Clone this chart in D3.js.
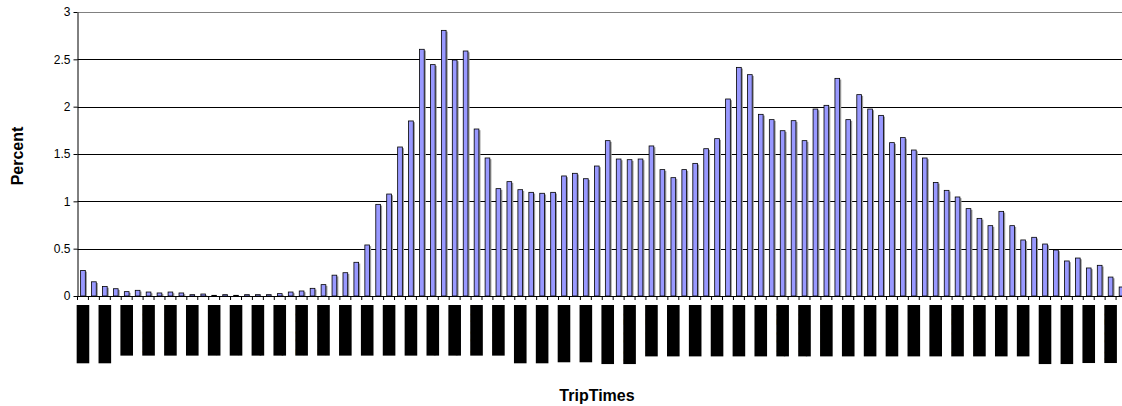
<!DOCTYPE html>
<head>
    <title>TripTimes percent chart</title>
</head>
<meta charset="utf-8">
<script src="https://d3js.org/d3.v7.min.js"></script>
<style>
  body { margin: 0; background: #fff; }
  text { font-family: "Liberation Sans", Arial, sans-serif; }
</style>
<body>
<div id="my_dataviz"></div>
<script>

// 15 minute trip time slots, one value each (percent of trips)
var percents = [
  0.27, 0.15, 0.10, 0.077, 0.046, 0.06, 0.042, 0.032, 0.042, 0.032,
  0.014, 0.021, 0.007, 0.014, 0.007, 0.014, 0.014, 0.014, 0.025, 0.042,
  0.053, 0.081, 0.12, 0.22, 0.246, 0.356, 0.539, 0.968, 1.077, 1.574,
  1.849, 2.606, 2.444, 2.806, 2.493, 2.588, 1.764, 1.458, 1.134, 1.208,
  1.123, 1.095, 1.085, 1.095, 1.268, 1.296, 1.239, 1.373, 1.641, 1.447,
  1.44, 1.447, 1.585, 1.335, 1.25, 1.335, 1.401, 1.556, 1.662, 2.081,
  2.415, 2.338, 1.919, 1.863, 1.746, 1.852, 1.641, 1.975, 2.014, 2.299,
  1.863, 2.127, 1.975, 1.908, 1.62, 1.673, 1.542, 1.458, 1.2, 1.116,
  1.046, 0.923, 0.82, 0.743, 0.894, 0.743, 0.592, 0.62, 0.549, 0.486,
  0.37, 0.401, 0.296, 0.324, 0.2, 0.095
];

var yTicks = [0, 0.5, 1, 1.5, 2, 2.5, 3];

// category names: 12:00 AM, 12:15 AM, ... 11:45 PM
var slots = [];
for (var i = 0; i < percents.length; i++) {
  var h = Math.floor(i / 4), m = (i % 4) * 15;
  var h12 = h % 12 === 0 ? 12 : h % 12;
  slots.push(h12 + ":" + (m < 10 ? "0" + m : m) + (h < 12 ? " AM" : " PM"));
}
// only every other category gets a label
var shownLabels = slots.filter(function(d, i) { return i % 2 === 0; });

var width = 1122, height = 406;
var plot = {left: 77.5, right: 1127, top: 12, bottom: 296};

var svg = d3.select("#my_dataviz")
  .append("svg")
    .attr("width", width)
    .attr("height", height);

var x = d3.scaleBand()
  .domain(slots)
  .range([plot.left, plot.right])
  .paddingInner(0.57)
  .paddingOuter(0.285);

var y = d3.scaleLinear()
  .domain([0, 3])
  .range([plot.bottom, plot.top]);

// gridlines
svg.selectAll("grid")
  .data(yTicks.slice(1))
  .enter()
  .append("line")
    .attr("x1", plot.left)
    .attr("x2", width)
    .attr("y1", function(d) { return Math.round(y(d)) + 0.5; })
    .attr("y2", function(d) { return Math.round(y(d)) + 0.5; })
    .style("stroke", function(d) { return d === 3 ? "#808080" : "#000"; })
    .style("stroke-width", 1);

// bar shadows then bars
svg.selectAll("shadow")
  .data(percents)
  .enter()
  .append("rect")
    .attr("x", function(d, i) { return x(slots[i]) + 1.6; })
    .attr("y", function(d) { return y(d) + 1.2; })
    .attr("width", x.bandwidth())
    .attr("height", function(d) { return plot.bottom - y(d) - 1.2; })
    .style("fill", "#9a9a9a");

svg.selectAll("bar")
  .data(percents)
  .enter()
  .append("rect")
    .attr("x", function(d, i) { return x(slots[i]); })
    .attr("y", function(d) { return y(d); })
    .attr("width", x.bandwidth())
    .attr("height", function(d) { return plot.bottom - y(d); })
    .style("fill", "#9999ff")
    .style("stroke", "#000")
    .style("stroke-width", 0.8);

// y axis
var yAxis = svg.append("g")
  .attr("transform", "translate(" + plot.left + ",0)")
  .call(d3.axisLeft(y).tickValues(yTicks).tickSize(4).tickSizeOuter(0).tickFormat(d3.format("")));
yAxis.select(".domain").style("stroke", "#000");
yAxis.selectAll("text")
  .attr("x", -7)
  .style("font-size", "12px")
  .style("font-family", "'Liberation Sans', Arial, sans-serif")
  .style("fill", "#000");

// x axis line and tick marks between categories
svg.append("line")
  .attr("x1", plot.left).attr("x2", width)
  .attr("y1", plot.bottom + 0.5).attr("y2", plot.bottom + 0.5)
  .style("stroke", "#000");

svg.selectAll("xtick")
  .data(slots)
  .enter()
  .append("line")
    .attr("x1", function(d) { return x(d) - x.step() * x.paddingInner() / 2; })
    .attr("x2", function(d) { return x(d) - x.step() * x.paddingInner() / 2; })
    .attr("y1", plot.bottom)
    .attr("y2", plot.bottom + 4)
    .style("stroke", "#000");

// category labels, printed as solid dark blocks of rotated text
var labelTop = 305;
var labels = svg.selectAll("xlabel")
  .data(shownLabels)
  .enter()
  .append("g")
    .attr("transform", function(d) {
      return "translate(" + (x(d) + x.bandwidth() / 2) + "," + labelTop + ")";
    });

labels.append("text")
    .attr("transform", "rotate(-90)")
    .attr("dy", "0.35em")
    .style("text-anchor", "end")
    .style("font-size", "13.8px")
    .style("fill", "#000")
    .text(function(d) { return d; });

labels.insert("rect", "text")
    .attr("x", -6.3)
    .attr("y", 0)
    .attr("width", 12.6)
    .attr("height", function() {
      return this.parentNode.querySelector("text").getComputedTextLength();
    })
    .style("fill", "#000");

// axis titles
svg.append("text")
  .attr("x", 597)
  .attr("y", 401)
  .style("text-anchor", "middle")
  .style("font-size", "16px")
  .style("font-weight", "bold")
  .text("TripTimes");

svg.append("text")
  .attr("transform", "translate(23,156) rotate(-90)")
  .style("text-anchor", "middle")
  .style("font-size", "16px")
  .style("font-weight", "bold")
  .text("Percent");

</script>
</body>
